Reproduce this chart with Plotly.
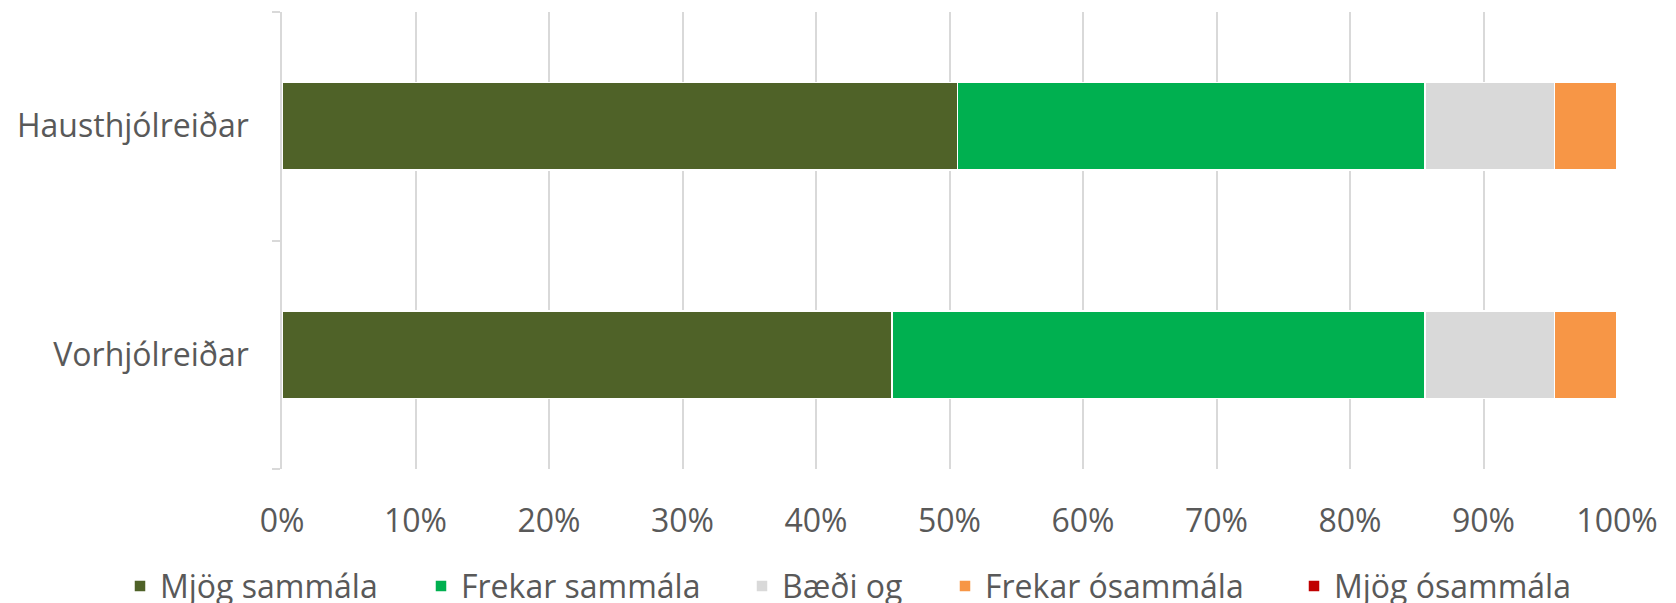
import plotly.graph_objects as go

categories = ["Vorhjólreiðar", "Hausthjólreiðar"]
series = ["Mjög sammála", "Frekar sammála", "Bæði og", "Frekar ósammála", "Mjög ósammála"]
colors = ["#4F6228", "#00B050", "#D9D9D9", "#F79646", "#C00000"]

# share (%) per category, same order as categories
mjog_sammala = [45.7, 50.6]
frekar_sammala = [39.9, 35.0]
baedi_og = [9.7, 9.7]
frekar_osammala = [4.7, 4.7]
mjog_osammala = [0, 0]

values = [mjog_sammala, frekar_sammala, baedi_og, frekar_osammala, mjog_osammala]
txt = "#595959"
grid = "#D9D9D9"

# each legend entry gets its own legend box so spacing matches the original
legend_x = [120, 421, 742, 945, 1294]
legend_ids = ["legend", "legend2", "legend3", "legend4", "legend5"]

fig = go.Figure()
for name, vals, col, lid in zip(series, values, colors, legend_ids):
    fig.add_trace(go.Bar(
        y=categories, x=vals, name=name, orientation="h", legend=lid,
        marker=dict(color=col, line=dict(color="white", width=1.5)),
    ))

legends = {}
for lid, lx in zip(legend_ids, legend_x):
    legends[lid] = dict(orientation="h", xref="container", x=lx / 1676, xanchor="left",
                        yref="container", y=0.028, yanchor="middle",
                        font=dict(size=32, color=txt), bgcolor="rgba(0,0,0,0)")

fig.update_layout(
    barmode="stack",
    bargap=0.615,
    width=1676, height=603,
    margin=dict(l=282, r=59, t=12, b=134, autoexpand=False),
    plot_bgcolor="white", paper_bgcolor="white",
    font=dict(family="Open Sans", size=32, color=txt),
    showlegend=True,
    **legends,
)
fig.update_xaxes(
    range=[0, 100], dtick=10, ticksuffix="%",
    showgrid=True, gridcolor=grid, gridwidth=1.5,
    zeroline=False, showline=False, ticklabelstandoff=30,
)
fig.update_yaxes(
    showline=True, linecolor=grid, linewidth=1.5,
    ticks="outside", tickson="boundaries", ticklen=8, tickcolor=grid, tickwidth=1.5,
    ticklabelstandoff=25,
)

fig.write_html("out.html", config={"displayModeBar": False},
               post_script="document.body.style.margin='0px';")
